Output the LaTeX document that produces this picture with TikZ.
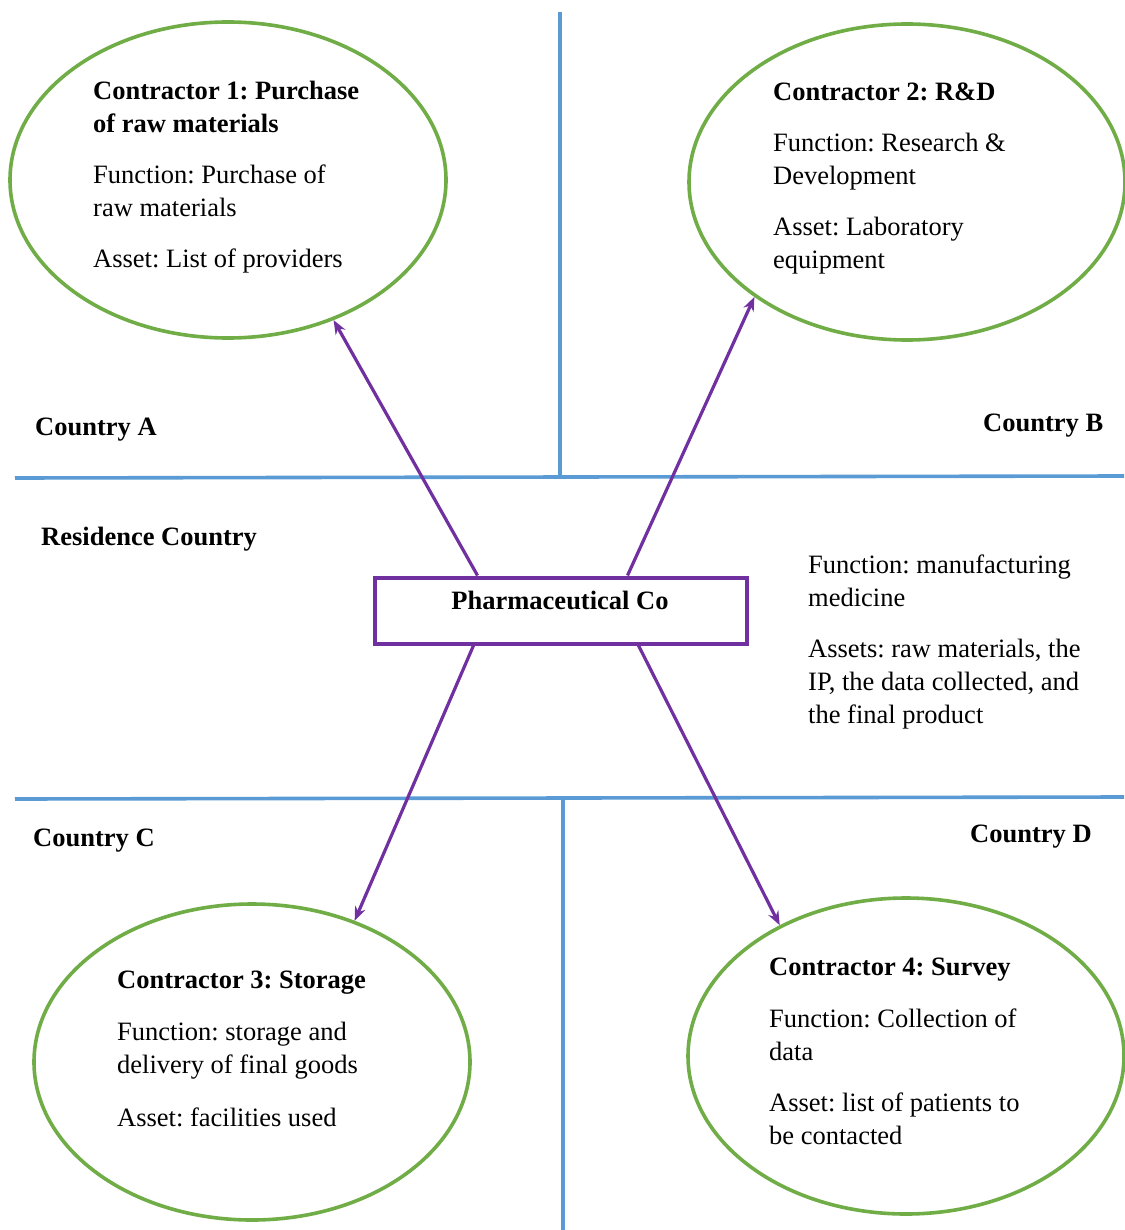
\documentclass[tikz,border=0pt]{standalone}
\usepackage{fontspec}
\setmainfont{Liberation Serif}
\frenchspacing
\usetikzlibrary{shapes.geometric,arrows.meta,calc}
\definecolor{egreen}{RGB}{112,173,71}
\definecolor{lblue}{RGB}{91,155,213}
\definecolor{lpurple}{RGB}{112,48,160}
\begin{document}
\begin{tikzpicture}[x=1pt,y=-1pt,
  oval/.style={ellipse,draw=egreen,line width=3.6pt,minimum width=436pt,minimum height=316pt,inner sep=0pt},
  border/.style={draw=lblue,line width=3.6pt},
  arr/.style={draw=lpurple,line width=3.2pt,-{Stealth[length=14pt,width=11pt]}},
  lbl/.style={anchor=base west,inner sep=0pt,font=\fontsize{26.5}{33}\selectfont},
  blbl/.style={lbl,font=\fontsize{26.5}{33}\selectfont\bfseries}]
\useasboundingbox (0,0) rectangle (1124,1230);
\fill[white] (0,0) rectangle (1124,1230);
% region borders
\coordinate (hl1) at (15,478);
\coordinate (hr1) at (1124,476);
\coordinate (vt1) at (560,12);
\coordinate (vb1) at (560,477);
\coordinate (hl2) at (15,799);
\coordinate (hr2) at (1124,797);
\coordinate (vt2) at (563,798);
\coordinate (vb2) at (563,1230);
\draw[border] (hl1) -- (hr1);
\draw[border] (vt1) -- (vb1);
\draw[border] (hl2) -- (hr2);
\draw[border] (vt2) -- (vb2);
% ellipses
\node[oval] (c1) at (228,180) {};
\node[oval] (c2) at (907,182) {};
\node[oval] (c3) at (252,1062) {};
\node[oval] (c4) at (906,1056) {};
% central box
\node[draw=lpurple,line width=4pt,minimum width=372pt,minimum height=66pt,inner sep=0pt] (pc) at (560.5,610.5) {};
\node[anchor=base,inner sep=0pt,font=\fontsize{26.5}{33}\selectfont\bfseries] (pct) at (560,609) {Pharmaceutical Co};
% connectors
\coordinate (s1) at ($(pc.north west)+(105,0)$);
\coordinate (s2) at ($(pc.north west)+(255,0)$);
\coordinate (s3) at ($(pc.south west)+(101,0)$);
\coordinate (s4) at ($(pc.south west)+(266,0)$);
\draw[arr] (s1) -- (c1.-53);
\draw[arr] (s2) -- (c2.217);
\draw[arr] (s3) -- (c3.54);
\draw[arr] (s4) -- (c4.134);
% contractor 1 text
\node[blbl] (t1a) at (93,100) {Contractor 1: Purchase};
\node[blbl] (t1b) at (93,133) {of raw materials};
\node[lbl] (t1c) at (93,184) {Function: Purchase of};
\node[lbl] (t1d) at (93,217) {raw materials};
\node[lbl] (t1e) at (93,268) {Asset: List of providers};
% contractor 2 text
\node[blbl] (t2a) at (773,101) {Contractor 2: R\&D};
\node[lbl] (t2b) at (773,152) {Function: Research \&};
\node[lbl] (t2c) at (773,185) {Development};
\node[lbl] (t2d) at (773,236) {Asset: Laboratory};
\node[lbl] (t2e) at (773,269) {equipment};
% contractor 3 text
\node[blbl] (t3a) at (117,988) {Contractor 3: Storage};
\node[lbl] (t3b) at (117,1040) {Function: storage and};
\node[lbl] (t3c) at (117,1073) {delivery of final goods};
\node[lbl] (t3d) at (117,1126) {Asset: facilities used};
% contractor 4 text
\node[blbl] (t4a) at (769,975) {Contractor 4: Survey};
\node[lbl] (t4b) at (769,1027) {Function: Collection of};
\node[lbl] (t4c) at (769,1060) {data};
\node[lbl] (t4d) at (769,1111) {Asset: list of patients to};
\node[lbl] (t4e) at (769,1144) {be contacted};
% residence country text
\node[lbl] (r1) at (808,573) {Function: manufacturing};
\node[lbl] (r2) at (808,606) {medicine};
\node[lbl] (r3) at (808,657) {Assets: raw materials, the};
\node[lbl] (r4) at (808,690) {IP, the data collected, and};
\node[lbl] (r5) at (808,723) {the final product};
% country labels
\node[blbl] (ca) at (35,435) {Country A};
\node[blbl] (cb) at (983,431) {Country B};
\node[blbl] (rc) at (41,545) {Residence Country};
\node[blbl] (cc) at (33,846) {Country C};
\node[blbl] (cd) at (970,842) {Country D};
\end{tikzpicture}
\end{document}
